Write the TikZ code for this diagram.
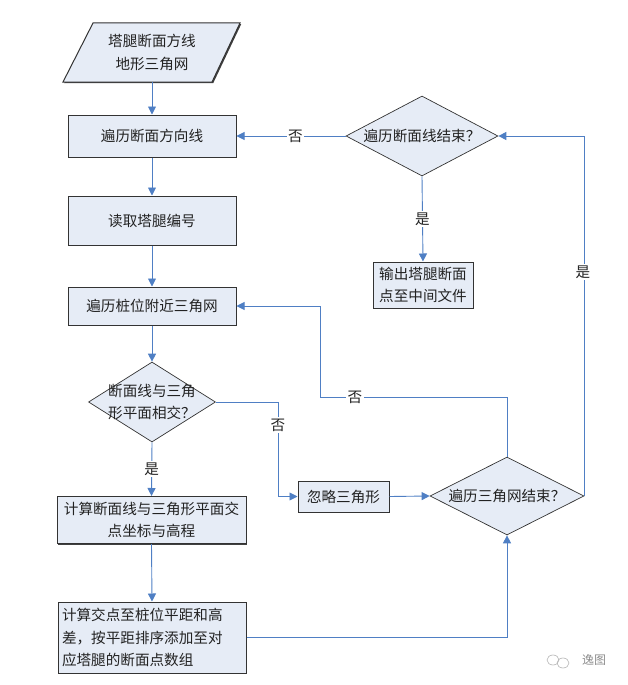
\documentclass[tikz,border=0pt]{standalone}
\usepackage{fontspec}
\setmainfont{Noto Sans CJK SC}
\usetikzlibrary{arrows.meta,shapes.geometric,shadows}
\definecolor{boxfill}{HTML}{E6ECF6}
\definecolor{flow}{HTML}{4F7FC4}
\definecolor{edge}{HTML}{333333}
\definecolor{txt}{HTML}{222222}
\begin{document}
\begin{tikzpicture}[x=1pt,y=-1pt,
  font=\fontsize{14.6pt}{22.5pt}\selectfont, text=txt,
  procbox/.style={draw=edge, line width=1pt, fill=boxfill, inner sep=3pt,
    drop shadow={shadow xshift=1.2pt, shadow yshift=-1.2pt, opacity=1, fill=black!75}},
  dia/.style={diamond, draw=edge, line width=0.7pt, fill=boxfill, inner sep=0pt},
  flowline/.style={draw=flow, line width=0.9pt},
  arr/.style={flowline, -{Triangle[length=8pt,width=8pt]}},
  lbl/.style={fill=white, inner sep=1.5pt, text=txt}]
\useasboundingbox (0,0) rectangle (628,685);

% input parallelogram
\coordinate (p1) at (63,82);
\coordinate (p2) at (93,23);
\coordinate (p3) at (240,23);
\coordinate (p4) at (212,82);
\fill[black!75] ([shift={(1.2,1.2)}]p1) -- ([shift={(1.2,1.2)}]p2) -- ([shift={(1.2,1.2)}]p3) -- ([shift={(1.2,1.2)}]p4) -- cycle;
\filldraw[fill=boxfill, draw=edge, line width=1pt] (p1) -- (p2) -- (p3) -- (p4) -- cycle;
\node[minimum height=59pt, align=center, inner sep=0pt] (in) at (152,52.5) {塔腿断面方线\\地形三角网};

% left column
\node[procbox, minimum width=168pt, minimum height=42pt] (b1) at (152,136) {遍历断面方向线};
\node[procbox, minimum width=168pt, minimum height=49pt] (b2) at (152,220.5) {读取塔腿编号};
\node[procbox, minimum width=168pt, minimum height=38pt] (b3) at (152,306) {遍历桩位附近三角网};
\node[dia, minimum width=127pt, minimum height=80pt] (d1) at (152,402) {};
\node[align=center, inner sep=0pt] (d1t) at (d1.center) {断面线与三角\\形平面相交？};
\node[procbox, minimum width=189pt, minimum height=47pt, align=center] (b4) at (151.5,520) {计算断面线与三角形平面交\\点坐标与高程};
\node[procbox, minimum width=188pt, minimum height=71pt, text width=180pt, align=left] (b5) at (152,637.5) {计算交点至桩位平距和高\\差，按平距排序添加至对\\应塔腿的断面点数组};

% middle / right
\node[procbox, minimum width=91pt, minimum height=31pt] (ig) at (343.5,496.5) {忽略三角形};
\node[dia, minimum width=154pt, minimum height=78pt] (d2) at (507,496) {};
\node[inner sep=0pt] (d2t) at (d2.center) {遍历三角网结束？};
\node[dia, minimum width=152pt, minimum height=80pt] (d3) at (422,136) {};
\node[inner sep=0pt] (d3t) at (d3.center) {遍历断面线结束？};
\node[procbox, minimum width=100pt, minimum height=46pt, align=center] (out) at (423,285) {输出塔腿断面\\点至中间文件};

% connectors
\draw[arr] (in.south) -- (b1.north);
\draw[arr] (b1.south) -- (b2.north);
\draw[arr] (b2.south) -- (b3.north);
\draw[arr] (b3.south) -- (d1.north);
\draw[arr] (d1.south) -- node[lbl, midway] (ly1) {是} (b4.north);
\draw[arr] (b4.south) -- (b5.north);
\coordinate (c1) at (278,402);
\draw[arr] (d1.east) -- (c1) |- (ig.west);
\node[lbl] (ln1) at (278,425) {否};
\draw[arr] (ig.east) -- (d2.west);
\draw[arr] (b5.east) -| (d2.south);
\coordinate (c2) at (320,397);
\draw[arr] (d2.north) |- (c2) |- (b3.east);
\node[lbl] (ln2) at (355,397) {否};
\draw[arr] (d2.east) |- (d3.east);
\node[lbl] (ly2) at (583,272) {是};
\draw[arr] (d3.west) -- node[lbl, pos=0.46] (ln3) {否} (b1.east);
\draw[arr] (d3.south) -- node[lbl, midway] (ly3) {是} (out.north);

% watermark
\draw[black!30, line width=0.6pt] (553,660) ellipse (6pt and 5pt);
\draw[black!30, line width=0.6pt] (563,663) ellipse (6pt and 5pt);
\node[text=black!45, font=\fontsize{12pt}{14pt}\selectfont] (wm) at (594,660) {逸图};
\end{tikzpicture}
\end{document}
